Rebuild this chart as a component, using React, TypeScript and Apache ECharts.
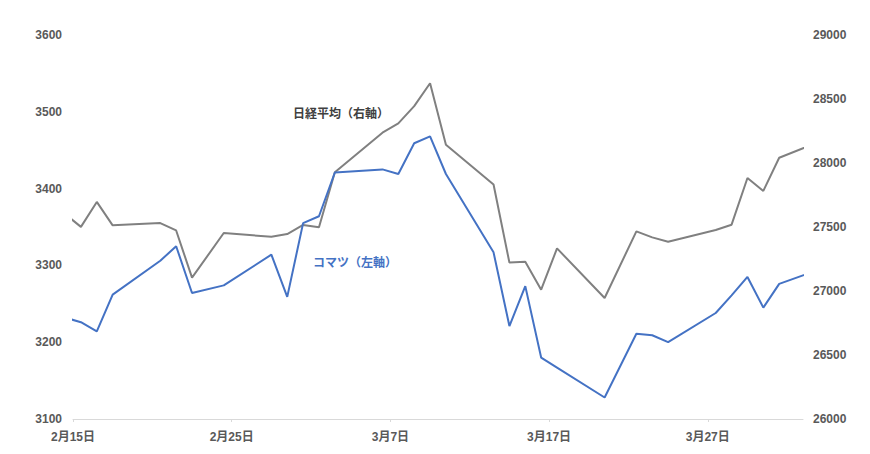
import { useEffect, useRef } from 'react'
import * as echarts from 'echarts'

// Trading days (first and last fall just outside the visible window and get clipped)
const dates = [
  '2023-02-14', '2023-02-15', '2023-02-16', '2023-02-17', '2023-02-20', '2023-02-21',
  '2023-02-22', '2023-02-24', '2023-02-27', '2023-02-28', '2023-03-01', '2023-03-02',
  '2023-03-03', '2023-03-06', '2023-03-07', '2023-03-08', '2023-03-09', '2023-03-10',
  '2023-03-13', '2023-03-14', '2023-03-15', '2023-03-16', '2023-03-17', '2023-03-20',
  '2023-03-22', '2023-03-23', '2023-03-24', '2023-03-27', '2023-03-28', '2023-03-29',
  '2023-03-30', '2023-03-31', '2023-04-03',
]

const komatsu = [
  3232, 3226, 3214, 3262, 3306, 3325, 3264, 3274, 3314, 3259, 3355, 3364,
  3421, 3425, 3419, 3459, 3468, 3419, 3317, 3221, 3273, 3180, 3167, 3128,
  3211, 3209, 3200, 3238, 3261, 3285, 3245, 3276, 3298,
]

const nikkei = [
  27602, 27501, 27696, 27513, 27531, 27473, 27104, 27453, 27423, 27445, 27516, 27498,
  27927, 28237, 28309, 28444, 28623, 28143, 27832, 27222, 27229, 27010, 27333, 26945,
  27466, 27419, 27385, 27476, 27518, 27883, 27782, 28041, 28188,
]

const START = '2023-02-15'
const END = '2023-04-02'
const DAY = 86400000

const BLUE = '#4472C4'
const GRAY = '#808080'
const LABEL = '#595959'
const FONT = "'Liberation Sans', 'Noto Sans CJK JP', sans-serif"

// day offset from START, points sit at mid-day
function dayOffset(iso: string): number {
  const [y, m, d] = iso.split('-').map(Number)
  const [y0, m0, d0] = START.split('-').map(Number)
  return (Date.UTC(y, m - 1, d) - Date.UTC(y0, m0 - 1, d0)) / DAY
}

function offsetLabel(v: number): string {
  const [y0, m0, d0] = START.split('-').map(Number)
  const t = new Date(Date.UTC(y0, m0 - 1, d0) + v * DAY)
  return `${t.getUTCMonth() + 1}月${t.getUTCDate()}日`
}

function buildOption(): echarts.EChartsOption {
  const xs = dates.map((d) => dayOffset(d) + 0.5)
  const axisLabel = {
    color: LABEL,
    fontSize: 12,
    fontWeight: 'bold' as const,
    fontFamily: FONT,
  }
  const plain = (v: number) => String(v)
  return {
    animation: false,
    backgroundColor: '#ffffff',
    textStyle: { fontFamily: FONT },
    grid: { left: 73, right: 67, top: 35, bottom: 35 },
    xAxis: {
      type: 'value',
      min: 0,
      max: dayOffset(END),
      interval: 10,
      axisLine: { lineStyle: { color: '#d9d9d9' } },
      axisTick: { show: true, length: 3, lineStyle: { color: '#d9d9d9' } },
      axisLabel: {
        ...axisLabel,
        margin: 12,
        showMaxLabel: false,
        formatter: (v: number) => offsetLabel(v),
      },
      splitLine: { show: false },
    },
    yAxis: [
      {
        type: 'value',
        min: 3100,
        max: 3600,
        interval: 100,
        axisLine: { show: false },
        axisTick: { show: false },
        axisLabel: { ...axisLabel, margin: 11, formatter: plain },
        splitLine: { show: false },
      },
      {
        type: 'value',
        min: 26000,
        max: 29000,
        interval: 500,
        position: 'right',
        axisLine: { show: false },
        axisTick: { show: false },
        axisLabel: { ...axisLabel, margin: 10, formatter: plain },
        splitLine: { show: false },
      },
    ],
    graphic: [
      {
        type: 'text',
        left: 293,
        top: 108,
        style: {
          text: '日経平均（右軸）',
          fill: '#404040',
          font: `bold 12px ${FONT}`,
        },
      },
      {
        type: 'text',
        left: 313,
        top: 257,
        style: {
          text: 'コマツ（左軸）',
          fill: BLUE,
          font: `bold 12px ${FONT}`,
        },
      },
    ],
    series: [
      {
        name: '日経平均',
        type: 'line',
        yAxisIndex: 1,
        data: xs.map((x, i) => [x, nikkei[i]]),
        showSymbol: false,
        clip: true,
        lineStyle: { color: GRAY, width: 2 },
        itemStyle: { color: GRAY },
      },
      {
        name: 'コマツ',
        type: 'line',
        yAxisIndex: 0,
        data: xs.map((x, i) => [x, komatsu[i]]),
        showSymbol: false,
        clip: true,
        lineStyle: { color: BLUE, width: 2 },
        itemStyle: { color: BLUE },
      },
    ],
  }
}

export default function App() {
  const ref = useRef<HTMLDivElement>(null)

  useEffect(() => {
    const el = ref.current
    if (!el) return
    const chart = echarts.init(el, undefined, { renderer: 'svg' })
    chart.setOption(buildOption())
    return () => chart.dispose()
  }, [])

  return (
    <div
      ref={ref}
      style={{ position: 'absolute', left: 0, top: 0, width: 870, height: 454 }}
    />
  )
}
